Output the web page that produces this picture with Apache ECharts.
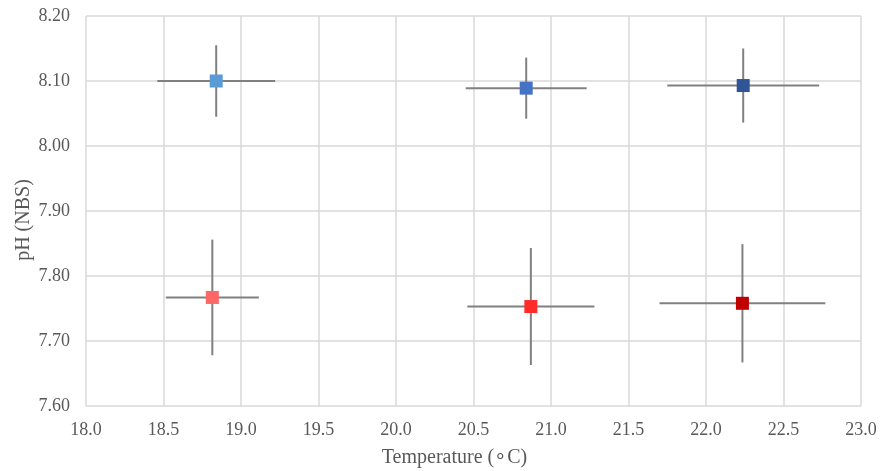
<!DOCTYPE html>
<html>
<head>
<meta charset="utf-8">
<script src="https://cdn.jsdelivr.net/npm/echarts@6/dist/echarts.min.js"></script>
<style>
  html, body { margin: 0; padding: 0; background: #fff; }
  #chart { width: 881px; height: 471px; }
</style>
</head>
<body>
<div id="chart"></div>
<script>
// values
var temps   = [18.84, 20.84, 22.24, 18.815, 20.87, 22.235];
var tempErr = [0.38, 0.39, 0.49, 0.30, 0.41, 0.535];
var phs     = [8.100, 8.089, 8.093, 7.767, 7.753, 7.758];
var phErr   = [0.055, 0.047, 0.057, 0.089, 0.090, 0.091];
var colors  = ["#5b9bd5", "#4472c4", "#2f5597", "#ff6666", "#ff2b2b", "#c00000"];

var font = "Liberation Serif";
var textColor = "#595959";

var barData = temps.map(function (t, i) {
  return [t, phs[i], tempErr[i], phErr[i]];
});
var pointData = temps.map(function (t, i) {
  return { value: [t, phs[i]], itemStyle: { color: colors[i], opacity: 1 } };
});

var chart = echarts.init(document.getElementById("chart"));
chart.setOption({
  animation: false,
  grid: { left: 86, right: 20, top: 16, bottom: 65, containLabel: false, outerBoundsMode: "none" },
  xAxis: {
    type: "value", min: 18, max: 23, interval: 0.5,
    name: "Temperature (\u2218C)", nameLocation: "middle", nameGap: 42, nameMoveOverlap: false,
    nameTextStyle: { fontFamily: font, fontSize: 20, color: textColor, padding: [0, 38, 0, 0] },
    axisLine: { show: false }, axisTick: { show: false },
    axisLabel: { fontFamily: font, fontSize: 18, color: textColor, margin: 15,
      formatter: function (v) { return v.toFixed(1); } },
    splitLine: { show: true, lineStyle: { color: "#d9d9d9", width: 1.5 } }
  },
  yAxis: {
    type: "value", min: 7.6, max: 8.2, interval: 0.1,
    name: "pH (NBS)", nameLocation: "middle", nameGap: 52, nameRotate: 90, nameMoveOverlap: false,
    nameTextStyle: { fontFamily: font, fontSize: 20, color: textColor, padding: [0, 18, 0, 0] },
    axisLine: { show: false }, axisTick: { show: false },
    axisLabel: { fontFamily: font, fontSize: 18, color: textColor, margin: 16,
      formatter: function (v) { return v.toFixed(2); } },
    splitLine: { show: true, lineStyle: { color: "#d9d9d9", width: 1.5 } }
  },
  series: [
    {
      type: "custom",
      data: barData,
      z: 1,
      renderItem: function (params, api) {
        var x = api.value(0), y = api.value(1), ex = api.value(2), ey = api.value(3);
        var l = api.coord([x - ex, y]), r = api.coord([x + ex, y]);
        var t = api.coord([x, y + ey]), b = api.coord([x, y - ey]);
        var st = { stroke: "#808080", lineWidth: 2 };
        return {
          type: "group",
          children: [
            { type: "line", shape: { x1: l[0], y1: l[1], x2: r[0], y2: r[1] }, style: st },
            { type: "line", shape: { x1: t[0], y1: t[1], x2: b[0], y2: b[1] }, style: st }
          ]
        };
      }
    },
    {
      type: "scatter",
      symbol: "rect",
      symbolSize: 13,
      z: 2,
      itemStyle: { opacity: 1 },
      data: pointData
    }
  ]
});
</script>
</body>
</html>
